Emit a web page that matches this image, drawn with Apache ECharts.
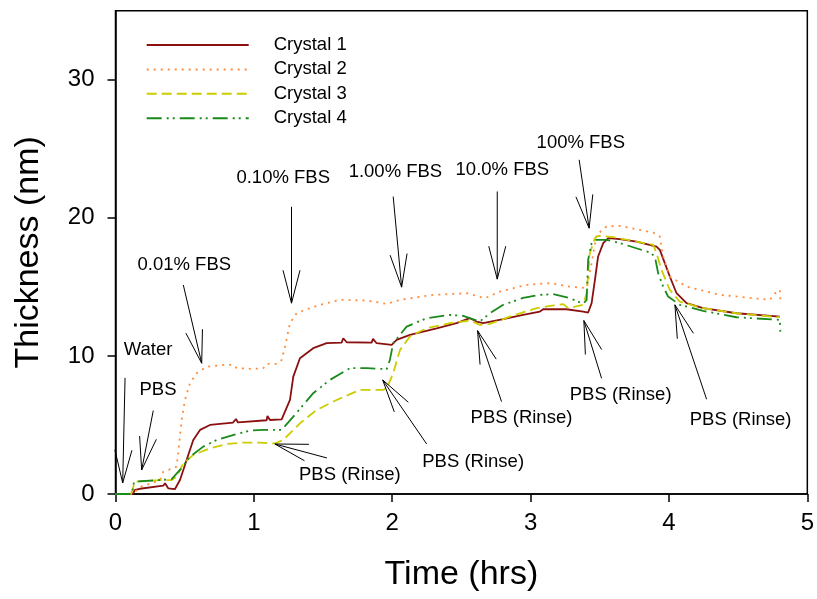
<!DOCTYPE html>
<html>
<head>
<meta charset="utf-8">
<script src="https://cdn.jsdelivr.net/npm/echarts@6/dist/echarts.min.js"></script>
<style>
  html, body { margin: 0; padding: 0; background: #fff; }
  #chart { width: 817px; height: 599px; }
</style>
</head>
<body>
<div id="chart"></div>
<script>
// ---- Data (time in hrs, thickness in nm) ----
var xTicks = [0, 1, 2, 3, 4, 5];
var yTicks = [0, 10, 20, 30];

var crystal1 = [[0,0],[0.124,0],[0.141,0.29],[0.177,0.38],[0.345,0.60],[0.358,0.78],[0.381,0.41],[0.43,0.36],[0.466,1.01],[0.514,2.46],[0.562,3.91],[0.611,4.64],[0.683,5.0],[0.849,5.17],[0.871,5.43],[0.885,5.18],[1.092,5.34],[1.098,5.65],[1.116,5.36],[1.201,5.41],[1.261,6.81],[1.285,8.5],[1.333,9.83],[1.429,10.56],[1.526,10.92],[1.634,10.96],[1.646,11.28],[1.671,10.99],[1.851,10.96],[1.861,11.23],[1.887,10.92],[1.996,10.80],[2.032,11.16],[2.128,11.52],[2.224,11.76],[2.321,12.0],[2.465,12.37],[2.561,12.73],[2.574,12.86],[2.610,12.49],[2.657,12.37],[2.802,12.66],[2.946,12.97],[3.067,13.21],[3.091,13.38],[3.26,13.38],[3.38,13.21],[3.416,13.14],[3.441,13.82],[3.465,15.51],[3.488,17.2],[3.525,18.17],[3.561,18.53],[3.645,18.46],[3.766,18.28],[3.910,17.92],[3.934,17.68],[3.970,16.72],[4.006,15.75],[4.055,14.54],[4.127,13.82],[4.247,13.46],[4.488,13.09],[4.801,12.85]];

var crystal2 = [[0,0],[0.124,0],[0.177,0.5],[0.322,1.0],[0.345,1.6],[0.442,1.98],[0.478,5.36],[0.502,6.81],[0.538,8.02],[0.587,8.75],[0.659,9.22],[0.779,9.35],[0.851,9.35],[0.876,9.11],[0.996,9.06],[1.068,9.11],[1.092,9.42],[1.165,9.42],[1.201,9.71],[1.225,10.67],[1.261,12.37],[1.309,13.09],[1.405,13.46],[1.478,13.70],[1.622,14.06],[1.815,14.01],[1.960,13.77],[2.056,14.06],[2.296,14.42],[2.538,14.54],[2.670,14.18],[2.778,14.66],[2.971,15.14],[3.139,15.27],[3.284,15.02],[3.405,14.91],[3.441,16.72],[3.477,18.77],[3.549,19.37],[3.645,19.42],[3.886,18.93],[3.934,18.64],[3.958,17.20],[4.006,15.75],[4.127,15.02],[4.368,14.42],[4.729,14.06],[4.777,14.66],[4.801,14.78],[4.806,13.9]];

var crystal3 = [[0,0],[0.112,0],[0.141,0.89],[0.322,1.01],[0.406,1.01],[0.442,1.25],[0.490,2.22],[0.562,2.83],[0.683,3.31],[0.803,3.62],[0.923,3.72],[1.044,3.72],[1.152,3.66],[1.212,3.91],[1.333,5.12],[1.454,6.09],[1.598,6.81],[1.767,7.54],[1.935,7.54],[1.960,7.66],[2.007,8.75],[2.056,10.43],[2.128,11.40],[2.249,12.01],[2.417,12.37],[2.561,12.56],[2.633,12.25],[2.706,12.32],[2.850,12.85],[3.043,13.46],[3.139,13.62],[3.236,13.75],[3.272,13.46],[3.380,13.70],[3.405,14.54],[3.428,17.44],[3.465,18.53],[3.488,18.70],[3.597,18.60],[3.766,18.28],[3.886,18.04],[3.910,17.44],[3.946,16.23],[4.006,14.78],[4.078,13.93],[4.247,13.46],[4.488,13.09],[4.801,12.80]];

var crystal4 = [[0,0],[0.119,0],[0.134,0.89],[0.322,1.01],[0.406,1.07],[0.466,1.74],[0.538,2.70],[0.634,3.43],[0.731,3.91],[0.876,4.35],[0.972,4.59],[1.068,4.64],[1.201,4.64],[1.285,5.60],[1.429,7.30],[1.549,8.26],[1.694,9.11],[1.815,9.11],[1.960,9.04],[1.983,9.71],[2.007,10.92],[2.104,12.12],[2.249,12.73],[2.417,12.97],[2.513,12.90],[2.561,12.73],[2.633,12.49],[2.706,13.09],[2.802,13.70],[2.946,14.20],[3.067,14.42],[3.163,14.47],[3.284,14.18],[3.380,13.77],[3.405,14.06],[3.416,16.96],[3.441,18.17],[3.465,18.41],[3.549,18.41],[3.645,18.17],[3.862,17.49],[3.898,17.20],[3.922,15.99],[3.958,15.02],[3.994,14.30],[4.078,13.70],[4.247,13.26],[4.488,12.80],[4.801,12.61],[4.805,11.76]];

// annotation texts: [text, x, y]
var annotationLabels = [
  ["Water", 0.235, 10.43],
  ["PBS", 0.307, 7.54],
  ["0.01% FBS", 0.497, 16.59],
  ["0.10% FBS", 1.212, 22.90],
  ["1.00% FBS", 2.023, 23.33],
  ["10.0% FBS", 2.796, 23.48],
  ["100% FBS", 3.363, 25.43],
  ["PBS (Rinse)", 1.694, 1.38],
  ["PBS (Rinse)", 2.585, 2.32],
  ["PBS (Rinse)", 2.934, 5.51],
  ["PBS (Rinse)", 3.651, 7.17],
  ["PBS (Rinse)", 4.518, 5.36]
];

// arrows: [tailX, tailY, tipX, tipY]
var arrows = [
  [0.069, 8.41, 0.052, 0.80],
  [0.273, 6.04, 0.189, 1.74],
  [0.490, 15.14, 0.623, 9.47],
  [1.272, 20.80, 1.272, 13.82],
  [2.007, 21.54, 2.068, 14.98],
  [2.759, 21.91, 2.759, 15.56],
  [3.351, 24.20, 3.423, 19.25],
  [1.528, 2.61, 1.152, 3.62],
  [2.249, 3.62, 1.931, 8.26],
  [2.790, 6.69, 2.617, 11.83],
  [3.513, 8.38, 3.385, 12.56],
  [4.272, 6.86, 4.043, 13.70]
];

var FONT = "'Liberation Sans', Arial, sans-serif";

var chart = echarts.init(document.getElementById('chart'), null, { renderer: 'canvas' });

function arrowRender(params, api) {
  var tail = api.coord([api.value(0), api.value(1)]);
  var tip = api.coord([api.value(2), api.value(3)]);
  var dx = tail[0] - tip[0], dy = tail[1] - tip[1];
  var len = Math.sqrt(dx * dx + dy * dy);
  var ux = dx / len, uy = dy / len;
  var headLen = 34, ang = 14.5 * Math.PI / 180;
  var c = Math.cos(ang), s = Math.sin(ang);
  var b1 = [tip[0] + headLen * (ux * c - uy * s), tip[1] + headLen * (ux * s + uy * c)];
  var b2 = [tip[0] + headLen * (ux * c + uy * s), tip[1] + headLen * (-ux * s + uy * c)];
  var st = { stroke: '#000', lineWidth: 1, fill: null };
  return {
    type: 'group',
    children: [
      { type: 'line', shape: { x1: tail[0], y1: tail[1], x2: tip[0], y2: tip[1] }, style: st },
      { type: 'line', shape: { x1: b1[0], y1: b1[1], x2: tip[0], y2: tip[1] }, style: st },
      { type: 'line', shape: { x1: b2[0], y1: b2[1], x2: tip[0], y2: tip[1] }, style: st }
    ]
  };
}

function labelRender(params, api) {
  var p = api.coord([api.value(1), api.value(2)]);
  return {
    type: 'text',
    x: p[0], y: p[1],
    style: {
      text: annotationLabels[params.dataIndex][0],
      fill: '#000',
      font: '18.5px ' + FONT,
      align: 'center',
      verticalAlign: 'middle'
    }
  };
}

function lineSeries(name, data, color, type, width) {
  return {
    name: name, type: 'line', data: data,
    showSymbol: false, symbol: 'none', smooth: false,
    lineStyle: { color: color, width: width, type: type },
    itemStyle: { color: color },
    z: 3, animation: false
  };
}

var option = {
  animation: false,
  backgroundColor: '#fff',
  textStyle: { fontFamily: FONT },
  grid: {
    left: 115.5, right: 9.3, top: 10.7, bottom: 105,
    show: true, borderColor: '#000', borderWidth: 1.5, backgroundColor: 'transparent'
  },
  legend: {
    data: ['Crystal 1', 'Crystal 2', 'Crystal 3', 'Crystal 4'],
    orient: 'vertical',
    left: 145.7, top: 35, padding: 0,
    itemWidth: 102, itemHeight: 20, itemGap: 4.4,
    itemStyle: { opacity: 0 },
    textStyle: { fontSize: 18.5, color: '#000', fontFamily: FONT, padding: [0, 0, 0, 20], lineHeight: 20 },
    selectedMode: false
  },
  xAxis: {
    type: 'value', min: 0, max: 5, interval: 1,
    name: 'Time (hrs)', nameLocation: 'middle', nameGap: 64,
    nameTextStyle: { fontSize: 34, color: '#000', fontFamily: FONT },
    axisLine: { show: true, onZero: false, lineStyle: { color: '#000', width: 1.5 } },
    axisTick: { show: true, inside: false, length: 8, lineStyle: { color: '#000', width: 1.5 } },
    axisLabel: { fontSize: 24, color: '#000', margin: 17, fontFamily: FONT,
      customValues: xTicks },
    splitLine: { show: false }
  },
  yAxis: {
    type: 'value', min: 0, max: 35, interval: 10,
    name: 'Thickness (nm)', nameLocation: 'middle', nameGap: 70,
    nameTextStyle: { fontSize: 34, color: '#000', fontFamily: FONT },
    axisLine: { show: true, onZero: false, lineStyle: { color: '#000', width: 1.5 } },
    axisTick: { show: true, inside: false, length: 8, lineStyle: { color: '#000', width: 1.5 },
      customValues: yTicks },
    axisLabel: { fontSize: 24, color: '#000', margin: 21, fontFamily: FONT,
      customValues: yTicks },
    splitLine: { show: false }
  },
  series: [
    lineSeries('Crystal 1', crystal1, '#8b1010', 'solid', 1.8),
    lineSeries('Crystal 2', crystal2, '#ff8c3a', [2, 5], 1.8),
    lineSeries('Crystal 3', crystal3, '#cccc00', [10, 5], 1.8),
    lineSeries('Crystal 4', crystal4, '#1a8a1a', [15, 5, 2, 4, 2, 5], 1.8),
    {
      name: 'arrows', type: 'custom', renderItem: arrowRender,
      data: arrows, z: 5, silent: true, clip: false, animation: false
    },
    {
      name: 'labels', type: 'custom', renderItem: labelRender,
      data: annotationLabels.map(function (d) { return [d[0], d[1], d[2]]; }),
      encode: { x: 1, y: 2 },
      dimensions: [{ name: 'text', type: 'ordinal' }, 'x', 'y'],
      z: 6, silent: true, clip: false, animation: false
    }
  ]
};

chart.setOption(option);
</script>
</body>
</html>
